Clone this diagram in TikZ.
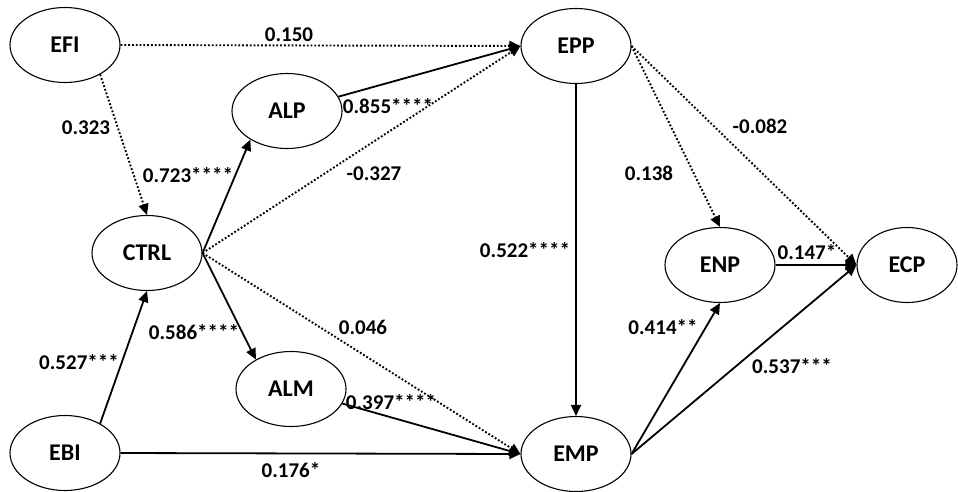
\documentclass[tikz,border=0pt]{standalone}
\usepackage{fontspec}
\setmainfont{Carlito}
\usetikzlibrary{shapes.geometric,arrows.meta}

\tikzset{
  latent/.style={draw, ellipse, line width=1.1pt, minimum width=110pt, minimum height=75pt,
    inner sep=0pt, font=\fontsize{24}{28}\selectfont\bfseries},
  coef/.style={font=\fontsize{21}{24}\selectfont\bfseries, inner sep=0pt},
  path/.style={line width=1.8pt, -{Triangle[length=11pt,width=10pt]}},
  nspath/.style={path, dotted, line width=1.9pt}
}

\begin{document}
\begin{tikzpicture}[x=1pt,y=-1pt]
  \useasboundingbox (0,0) rectangle (958,491);

  % constructs
  \node[latent] (EFI) at (65,45) {EFI};
  \node[latent] (ALP) at (287,111) {ALP};
  \node[latent] (CTRL) at (147,253) {CTRL};
  \node[latent] (ALM) at (291,389) {ALM};
  \node[latent] (EBI) at (65,453) {EBI};
  \node[latent] (EPP) at (576,46) {EPP};
  \node[latent] (EMP) at (576,454) {EMP};
  \node[latent] (ENP) at (720,265) {ENP};
  \node[latent, minimum width=100pt] (ECP) at (907,265) {ECP};

  % paths, not significant
  \draw[nspath] (EFI.east) -- (EPP.west);
  \draw[nspath] (EFI.320) -- (CTRL.north);
  \draw[nspath] (CTRL.east) -- (EPP.west);
  \draw[nspath] (CTRL.east) -- (EMP.west);
  \draw[nspath] (EPP.east) -- (ENP.north);
  \draw[nspath] (EPP.east) -- (ECP.west);

  % paths, significant
  \draw[path] (EBI.40) -- (CTRL.south);
  \draw[path] (EBI.east) -- (EMP.west);
  \draw[path] (CTRL.east) -- (ALP.218);
  \draw[path] (CTRL.east) -- (ALM.140);
  \draw[path] (ALP) -- (EPP.west);
  \draw[path] (ALM) -- (EMP.west);
  \draw[path] (EPP.south) -- (EMP.north);
  \draw[path] (EMP.east) -- (ENP.south);
  \draw[path] (EMP.east) -- (ECP.west);
  \draw[path] (ENP.east) -- (ECP.west);

  % coefficients
  \node[coef] (c-efi-epp) at (289,35) {0.150};
  \node[coef] (c-efi-ctrl) at (86,128) {0.323};
  \node[coef] (c-ctrl-alp) at (188,175) {0.723****};
  \node[coef] (c-alp-epp) at (388,106) {0.855****};
  \node[coef] (c-ctrl-epp) at (374,174) {-0.327};
  \node[coef] (c-ctrl-alm) at (194,332) {0.586****};
  \node[coef] (c-ctrl-emp) at (363,327) {0.046};
  \node[coef] (c-alm-emp) at (391,402) {0.397****};
  \node[coef] (c-ebi-ctrl) at (79,362) {0.527***};
  \node[coef] (c-ebi-emp) at (291,470) {0.176*};
  \node[coef] (c-epp-emp) at (525,250) {0.522****};
  \node[coef] (c-epp-enp) at (649,173) {0.138};
  \node[coef] (c-epp-ecp) at (760,126) {-0.082};
  \node[coef] (c-enp-ecp) at (807,252) {0.147*};
  \node[coef] (c-emp-enp) at (663,327) {0.414**};
  \node[coef] (c-emp-ecp) at (792,366) {0.537***};
\end{tikzpicture}
\end{document}
